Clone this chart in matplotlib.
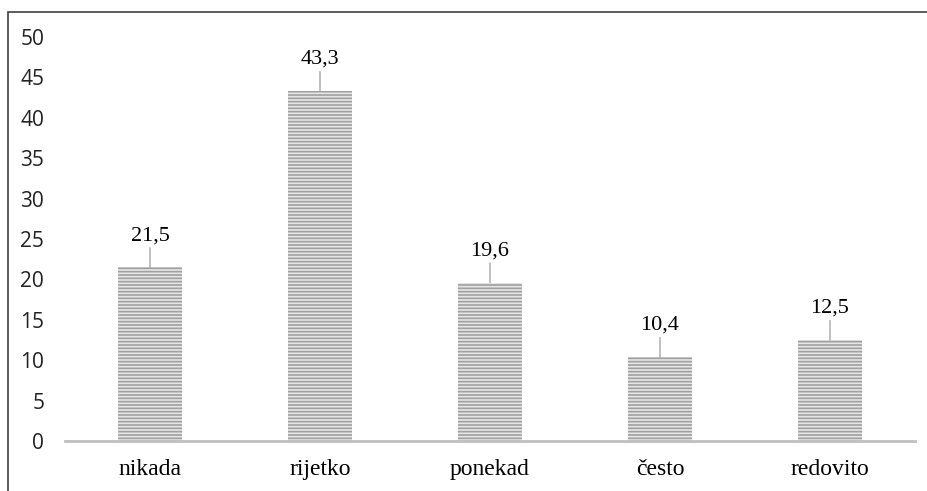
import matplotlib.pyplot as plt
from matplotlib.patches import Rectangle

categories = ["nikada", "rijetko", "ponekad", "često", "redovito"]
values = [21.5, 43.3, 19.6, 10.4, 12.5]
value_labels = ["21,5", "43,3", "19,6", "10,4", "12,5"]
y_ticks = [0, 5, 10, 15, 20, 25, 30, 35, 40, 45, 50]

plt.rcParams["hatch.linewidth"] = 1.2

fig = plt.figure(figsize=(9.27, 4.91), dpi=100)
ax = fig.add_axes([65 / 927, 50 / 491, 850 / 927, 404 / 491])

x = range(len(categories))
ax.bar(x, values, width=0.38, color="#e6e6e6", hatch="-----",
       edgecolor="#a0a0a0", linewidth=0, zorder=2)

# value labels with short leader lines above each bar
for i, v in enumerate(values):
    ax.annotate(value_labels[i], xy=(i, v), xytext=(0, 16), textcoords="offset points",
                ha="center", va="bottom", fontsize=16, family="Liberation Serif",
                arrowprops=dict(arrowstyle="-", color="#a6a6a6", lw=1, shrinkA=0, shrinkB=0))

ax.set_xlim(-0.5, len(categories) - 0.5)
ax.set_ylim(0, 50)
ax.set_yticks(y_ticks)
ax.set_yticklabels([str(t) for t in y_ticks], family="Open Sans", fontsize=15, color="#222222")
ax.set_xticks(list(x))
ax.set_xticklabels(categories, family="Liberation Serif", fontsize=17)
ax.tick_params(length=0)
ax.tick_params(axis="y", pad=15)
ax.tick_params(axis="x", pad=13)

for side in ["top", "right", "left"]:
    ax.spines[side].set_visible(False)
ax.spines["bottom"].set_color("#bfbfbf")
ax.spines["bottom"].set_linewidth(2)

# outer frame
fig.patches.append(Rectangle((8 / 927, -0.1), 1.1, (491 - 12) / 491 + 0.1,
                             transform=fig.transFigure, fill=False,
                             edgecolor="#404040", lw=1.2))

fig.savefig("out.png", dpi=100)
